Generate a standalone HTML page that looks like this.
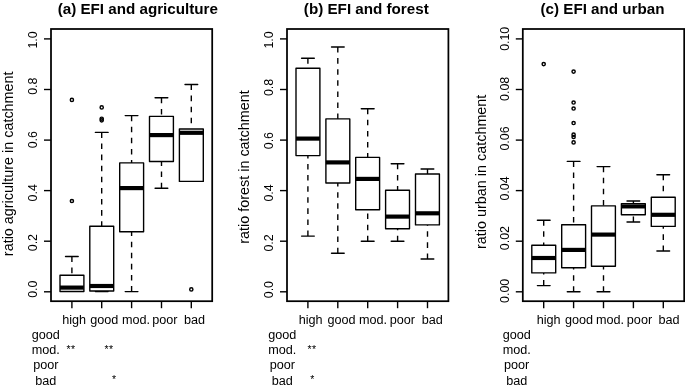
<!DOCTYPE html>
<html><head><meta charset="utf-8"><title>EFI boxplots</title>
<style>
html,body{margin:0;padding:0;background:#fff;}
svg{display:block;will-change:transform;filter:grayscale(1);}
text{font-family:"Liberation Sans",sans-serif;fill:#000;}
.t{font-weight:bold;font-size:15.2px;text-anchor:middle;}
.l{font-size:14.4px;text-anchor:middle;}
.a{font-size:12.4px;text-anchor:middle;}
.h{font-size:12.65px;text-anchor:middle;}
.s{font-size:10.5px;text-anchor:middle;letter-spacing:0.4px;}
.ln{stroke:#000;stroke-width:1.39;fill:none;stroke-linecap:round;stroke-linejoin:round;}
.bx{stroke:#000;stroke-width:1.39;fill:#fff;stroke-linejoin:round;}
.wh{stroke:#000;stroke-width:1.39;fill:none;stroke-linecap:butt;stroke-dasharray:5.55 5.55;}
.md{stroke:#000;stroke-width:4.17;fill:none;stroke-linecap:butt;}
.pt{stroke:#000;stroke-width:1.45;fill:none;}
.fr{stroke:#000;stroke-width:1.75;fill:none;stroke-linejoin:miter;}
.tk{stroke:#000;stroke-width:1.39;fill:none;stroke-linecap:butt;}
</style></head>
<body>
<svg width="685" height="388" viewBox="0 0 685 388">
<rect x="0" y="0" width="685" height="388" fill="#fff"/>
<g>
<text class="t" x="137.8" y="14.4">(a) EFI and agriculture</text>
<text class="l" transform="translate(13.1,163.8) rotate(-90) scale(1,1.05)">ratio agriculture in catchment</text>
<rect class="fr" x="51.0" y="29.0" width="161.2" height="272.2"/>
<line class="tk" x1="44.0" y1="291.8" x2="51.0" y2="291.8"/>
<text class="a" transform="translate(36.7,289.2) rotate(-90) scale(1,1.07)">0.0</text>
<line class="tk" x1="44.0" y1="241.2" x2="51.0" y2="241.2"/>
<text class="a" transform="translate(36.7,242.6) rotate(-90) scale(1,1.07)">0.2</text>
<line class="tk" x1="44.0" y1="190.6" x2="51.0" y2="190.6"/>
<text class="a" transform="translate(36.7,192.8) rotate(-90) scale(1,1.07)">0.4</text>
<line class="tk" x1="44.0" y1="140.1" x2="51.0" y2="140.1"/>
<text class="a" transform="translate(36.7,139.7) rotate(-90) scale(1,1.07)">0.6</text>
<line class="tk" x1="44.0" y1="89.5" x2="51.0" y2="89.5"/>
<text class="a" transform="translate(36.7,86.2) rotate(-90) scale(1,1.07)">0.8</text>
<line class="tk" x1="44.0" y1="38.9" x2="51.0" y2="38.9"/>
<text class="a" transform="translate(36.7,39.9) rotate(-90) scale(1,1.07)">1.0</text>
<line class="tk" x1="71.9" y1="301.2" x2="71.9" y2="308.2"/>
<text class="h" x="74.2" y="323.5">high</text>
<line class="wh" x1="71.9" y1="256.5" x2="71.9" y2="275.3"/>
<line class="ln" x1="65.5" y1="256.5" x2="78.2" y2="256.5"/>
<rect class="bx" x="60.0" y="275.3" width="23.9" height="16.2"/>
<line class="md" x1="60.0" y1="287.6" x2="83.8" y2="287.6"/>
<circle class="pt" cx="71.9" cy="99.9" r="1.6"/>
<circle class="pt" cx="71.9" cy="201.0" r="1.6"/>
<line class="tk" x1="101.7" y1="301.2" x2="101.7" y2="308.2"/>
<text class="h" x="104.2" y="323.5">good</text>
<line class="wh" x1="101.7" y1="132.4" x2="101.7" y2="226.2"/>
<line class="ln" x1="95.4" y1="132.4" x2="108.1" y2="132.4"/>
<line class="wh" x1="101.7" y1="291.6" x2="101.7" y2="291.0"/>
<line class="ln" x1="95.4" y1="291.6" x2="108.1" y2="291.6"/>
<rect class="bx" x="89.8" y="226.2" width="23.9" height="64.8"/>
<line class="md" x1="89.8" y1="286.0" x2="113.7" y2="286.0"/>
<circle class="pt" cx="101.7" cy="107.4" r="1.6"/>
<circle class="pt" cx="101.7" cy="118.7" r="1.6"/>
<circle class="pt" cx="101.7" cy="120.3" r="1.6"/>
<line class="tk" x1="131.6" y1="301.2" x2="131.6" y2="308.2"/>
<text class="h" x="136.0" y="323.5">mod.</text>
<line class="wh" x1="131.6" y1="115.6" x2="131.6" y2="162.9"/>
<line class="ln" x1="125.2" y1="115.6" x2="137.9" y2="115.6"/>
<line class="wh" x1="131.6" y1="291.6" x2="131.6" y2="231.8"/>
<line class="ln" x1="125.2" y1="291.6" x2="137.9" y2="291.6"/>
<rect class="bx" x="119.7" y="162.9" width="23.9" height="68.9"/>
<line class="md" x1="119.7" y1="188.1" x2="143.5" y2="188.1"/>
<line class="tk" x1="161.5" y1="301.2" x2="161.5" y2="308.2"/>
<text class="h" x="164.8" y="323.5">poor</text>
<line class="wh" x1="161.5" y1="97.8" x2="161.5" y2="116.4"/>
<line class="ln" x1="155.1" y1="97.8" x2="167.8" y2="97.8"/>
<line class="wh" x1="161.5" y1="188.2" x2="161.5" y2="161.5"/>
<line class="ln" x1="155.1" y1="188.2" x2="167.8" y2="188.2"/>
<rect class="bx" x="149.5" y="116.4" width="23.9" height="45.1"/>
<line class="md" x1="149.5" y1="135.1" x2="173.4" y2="135.1"/>
<line class="tk" x1="191.3" y1="301.2" x2="191.3" y2="308.2"/>
<text class="h" x="194.6" y="323.5">bad</text>
<line class="wh" x1="191.3" y1="84.5" x2="191.3" y2="129.0"/>
<line class="ln" x1="185.0" y1="84.5" x2="197.7" y2="84.5"/>
<rect class="bx" x="179.4" y="129.0" width="23.9" height="52.4"/>
<line class="md" x1="179.4" y1="132.8" x2="203.2" y2="132.8"/>
<circle class="pt" cx="191.3" cy="289.4" r="1.6"/>
<text class="h" x="45.8" y="339.1">good</text>
<text class="h" x="45.8" y="354.1">mod.</text>
<text class="h" x="45.8" y="369.4">poor</text>
<text class="h" x="45.8" y="384.9">bad</text>
<text class="s" x="71.0" y="353.2">**</text>
<text class="s" x="109.0" y="353.2">**</text>
<text class="s" x="114.2" y="383.1">*</text>
</g>
<g>
<text class="t" x="366.3" y="14.4">(b) EFI and forest</text>
<text class="l" transform="translate(249.1,167.0) rotate(-90) scale(1,1.05)">ratio forest in catchment</text>
<rect class="fr" x="287.0" y="29.0" width="161.4" height="272.2"/>
<line class="tk" x1="280.0" y1="291.8" x2="287.0" y2="291.8"/>
<text class="a" transform="translate(272.7,289.6) rotate(-90) scale(1,1.07)">0.0</text>
<line class="tk" x1="280.0" y1="241.2" x2="287.0" y2="241.2"/>
<text class="a" transform="translate(272.7,243.0) rotate(-90) scale(1,1.07)">0.2</text>
<line class="tk" x1="280.0" y1="190.6" x2="287.0" y2="190.6"/>
<text class="a" transform="translate(272.7,193.0) rotate(-90) scale(1,1.07)">0.4</text>
<line class="tk" x1="280.0" y1="140.1" x2="287.0" y2="140.1"/>
<text class="a" transform="translate(272.7,140.6) rotate(-90) scale(1,1.07)">0.6</text>
<line class="tk" x1="280.0" y1="89.5" x2="287.0" y2="89.5"/>
<text class="a" transform="translate(272.7,87.4) rotate(-90) scale(1,1.07)">0.8</text>
<line class="tk" x1="280.0" y1="38.9" x2="287.0" y2="38.9"/>
<text class="a" transform="translate(272.7,39.9) rotate(-90) scale(1,1.07)">1.0</text>
<line class="tk" x1="307.9" y1="301.2" x2="307.9" y2="308.2"/>
<text class="h" x="310.7" y="323.5">high</text>
<line class="wh" x1="307.9" y1="58.2" x2="307.9" y2="68.2"/>
<line class="ln" x1="301.6" y1="58.2" x2="314.3" y2="58.2"/>
<line class="wh" x1="307.9" y1="236.1" x2="307.9" y2="155.6"/>
<line class="ln" x1="301.6" y1="236.1" x2="314.3" y2="236.1"/>
<rect class="bx" x="296.0" y="68.2" width="23.9" height="87.4"/>
<line class="md" x1="296.0" y1="138.6" x2="319.9" y2="138.6"/>
<line class="tk" x1="337.8" y1="301.2" x2="337.8" y2="308.2"/>
<text class="h" x="341.5" y="323.5">good</text>
<line class="wh" x1="337.8" y1="47.0" x2="337.8" y2="118.9"/>
<line class="ln" x1="331.5" y1="47.0" x2="344.2" y2="47.0"/>
<line class="wh" x1="337.8" y1="253.2" x2="337.8" y2="183.0"/>
<line class="ln" x1="331.5" y1="253.2" x2="344.2" y2="253.2"/>
<rect class="bx" x="325.9" y="118.9" width="23.9" height="64.1"/>
<line class="md" x1="325.9" y1="162.4" x2="349.8" y2="162.4"/>
<line class="tk" x1="367.7" y1="301.2" x2="367.7" y2="308.2"/>
<text class="h" x="373.1" y="323.5">mod.</text>
<line class="wh" x1="367.7" y1="108.7" x2="367.7" y2="157.4"/>
<line class="ln" x1="361.3" y1="108.7" x2="374.1" y2="108.7"/>
<line class="wh" x1="367.7" y1="241.3" x2="367.7" y2="209.7"/>
<line class="ln" x1="361.3" y1="241.3" x2="374.1" y2="241.3"/>
<rect class="bx" x="355.7" y="157.4" width="23.9" height="52.3"/>
<line class="md" x1="355.7" y1="178.9" x2="379.7" y2="178.9"/>
<line class="tk" x1="397.6" y1="301.2" x2="397.6" y2="308.2"/>
<text class="h" x="402.4" y="323.5">poor</text>
<line class="wh" x1="397.6" y1="163.8" x2="397.6" y2="190.3"/>
<line class="ln" x1="391.2" y1="163.8" x2="403.9" y2="163.8"/>
<line class="wh" x1="397.6" y1="241.3" x2="397.6" y2="228.8"/>
<line class="ln" x1="391.2" y1="241.3" x2="403.9" y2="241.3"/>
<rect class="bx" x="385.6" y="190.3" width="23.9" height="38.5"/>
<line class="md" x1="385.6" y1="216.6" x2="409.5" y2="216.6"/>
<line class="tk" x1="427.5" y1="301.2" x2="427.5" y2="308.2"/>
<text class="h" x="432.3" y="323.5">bad</text>
<line class="wh" x1="427.5" y1="169.0" x2="427.5" y2="174.0"/>
<line class="ln" x1="421.1" y1="169.0" x2="433.8" y2="169.0"/>
<line class="wh" x1="427.5" y1="259.0" x2="427.5" y2="224.9"/>
<line class="ln" x1="421.1" y1="259.0" x2="433.8" y2="259.0"/>
<rect class="bx" x="415.5" y="174.0" width="23.9" height="50.9"/>
<line class="md" x1="415.5" y1="213.3" x2="439.4" y2="213.3"/>
<text class="h" x="282.3" y="339.1">good</text>
<text class="h" x="282.3" y="354.1">mod.</text>
<text class="h" x="282.3" y="369.4">poor</text>
<text class="h" x="282.3" y="384.9">bad</text>
<text class="s" x="311.9" y="353.2">**</text>
<text class="s" x="312.5" y="383.1">*</text>
</g>
<g>
<text class="t" x="602.5" y="14.4">(c) EFI and urban</text>
<text class="l" transform="translate(485.8,171.8) rotate(-90) scale(1,1.05)">ratio urban in catchment</text>
<rect class="fr" x="522.8" y="29.0" width="161.4" height="272.2"/>
<line class="tk" x1="515.8" y1="291.8" x2="522.8" y2="291.8"/>
<text class="a" transform="translate(508.5,290.9) rotate(-90) scale(1,1.07)">0.00</text>
<line class="tk" x1="515.8" y1="241.2" x2="522.8" y2="241.2"/>
<text class="a" transform="translate(508.5,238.1) rotate(-90) scale(1,1.07)">0.02</text>
<line class="tk" x1="515.8" y1="190.6" x2="522.8" y2="190.6"/>
<text class="a" transform="translate(508.5,188.5) rotate(-90) scale(1,1.07)">0.04</text>
<line class="tk" x1="515.8" y1="140.1" x2="522.8" y2="140.1"/>
<text class="a" transform="translate(508.5,138.5) rotate(-90) scale(1,1.07)">0.06</text>
<line class="tk" x1="515.8" y1="89.5" x2="522.8" y2="89.5"/>
<text class="a" transform="translate(508.5,88.9) rotate(-90) scale(1,1.07)">0.08</text>
<line class="tk" x1="515.8" y1="38.9" x2="522.8" y2="38.9"/>
<text class="a" transform="translate(508.5,38.8) rotate(-90) scale(1,1.07)">0.10</text>
<line class="tk" x1="543.7" y1="301.2" x2="543.7" y2="308.2"/>
<text class="h" x="548.6" y="323.5">high</text>
<line class="wh" x1="543.7" y1="220.2" x2="543.7" y2="245.2"/>
<line class="ln" x1="537.4" y1="220.2" x2="550.1" y2="220.2"/>
<line class="wh" x1="543.7" y1="285.6" x2="543.7" y2="272.9"/>
<line class="ln" x1="537.4" y1="285.6" x2="550.1" y2="285.6"/>
<rect class="bx" x="531.8" y="245.2" width="23.9" height="27.7"/>
<line class="md" x1="531.8" y1="258.0" x2="555.7" y2="258.0"/>
<circle class="pt" cx="543.7" cy="64.1" r="1.6"/>
<line class="tk" x1="573.6" y1="301.2" x2="573.6" y2="308.2"/>
<text class="h" x="579.0" y="323.5">good</text>
<line class="wh" x1="573.6" y1="161.4" x2="573.6" y2="224.7"/>
<line class="ln" x1="567.3" y1="161.4" x2="580.0" y2="161.4"/>
<line class="wh" x1="573.6" y1="291.8" x2="573.6" y2="267.7"/>
<line class="ln" x1="567.3" y1="291.8" x2="580.0" y2="291.8"/>
<rect class="bx" x="561.7" y="224.7" width="23.9" height="43.0"/>
<line class="md" x1="561.7" y1="249.9" x2="585.6" y2="249.9"/>
<circle class="pt" cx="573.6" cy="71.6" r="1.6"/>
<circle class="pt" cx="573.6" cy="102.5" r="1.6"/>
<circle class="pt" cx="573.6" cy="108.5" r="1.6"/>
<circle class="pt" cx="573.6" cy="123.0" r="1.6"/>
<circle class="pt" cx="573.6" cy="134.7" r="1.6"/>
<circle class="pt" cx="573.6" cy="137.0" r="1.6"/>
<circle class="pt" cx="573.6" cy="142.4" r="1.6"/>
<line class="tk" x1="603.5" y1="301.2" x2="603.5" y2="308.2"/>
<text class="h" x="610.0" y="323.5">mod.</text>
<line class="wh" x1="603.5" y1="166.6" x2="603.5" y2="205.9"/>
<line class="ln" x1="597.1" y1="166.6" x2="609.9" y2="166.6"/>
<line class="wh" x1="603.5" y1="291.8" x2="603.5" y2="266.3"/>
<line class="ln" x1="597.1" y1="291.8" x2="609.9" y2="291.8"/>
<rect class="bx" x="591.5" y="205.9" width="23.9" height="60.4"/>
<line class="md" x1="591.5" y1="234.6" x2="615.5" y2="234.6"/>
<line class="tk" x1="633.4" y1="301.2" x2="633.4" y2="308.2"/>
<text class="h" x="639.5" y="323.5">poor</text>
<line class="wh" x1="633.4" y1="201.0" x2="633.4" y2="203.6"/>
<line class="ln" x1="627.0" y1="201.0" x2="639.7" y2="201.0"/>
<line class="wh" x1="633.4" y1="222.0" x2="633.4" y2="214.8"/>
<line class="ln" x1="627.0" y1="222.0" x2="639.7" y2="222.0"/>
<rect class="bx" x="621.4" y="203.6" width="23.9" height="11.2"/>
<line class="md" x1="621.4" y1="206.4" x2="645.3" y2="206.4"/>
<line class="tk" x1="663.3" y1="301.2" x2="663.3" y2="308.2"/>
<text class="h" x="669.0" y="323.5">bad</text>
<line class="wh" x1="663.3" y1="174.7" x2="663.3" y2="197.3"/>
<line class="ln" x1="656.9" y1="174.7" x2="669.6" y2="174.7"/>
<line class="wh" x1="663.3" y1="251.0" x2="663.3" y2="226.4"/>
<line class="ln" x1="656.9" y1="251.0" x2="669.6" y2="251.0"/>
<rect class="bx" x="651.3" y="197.3" width="23.9" height="29.1"/>
<line class="md" x1="651.3" y1="214.8" x2="675.2" y2="214.8"/>
<text class="h" x="516.7" y="339.1">good</text>
<text class="h" x="516.7" y="354.1">mod.</text>
<text class="h" x="516.7" y="369.4">poor</text>
<text class="h" x="516.7" y="384.9">bad</text>
</g>
</svg>
</body></html>
